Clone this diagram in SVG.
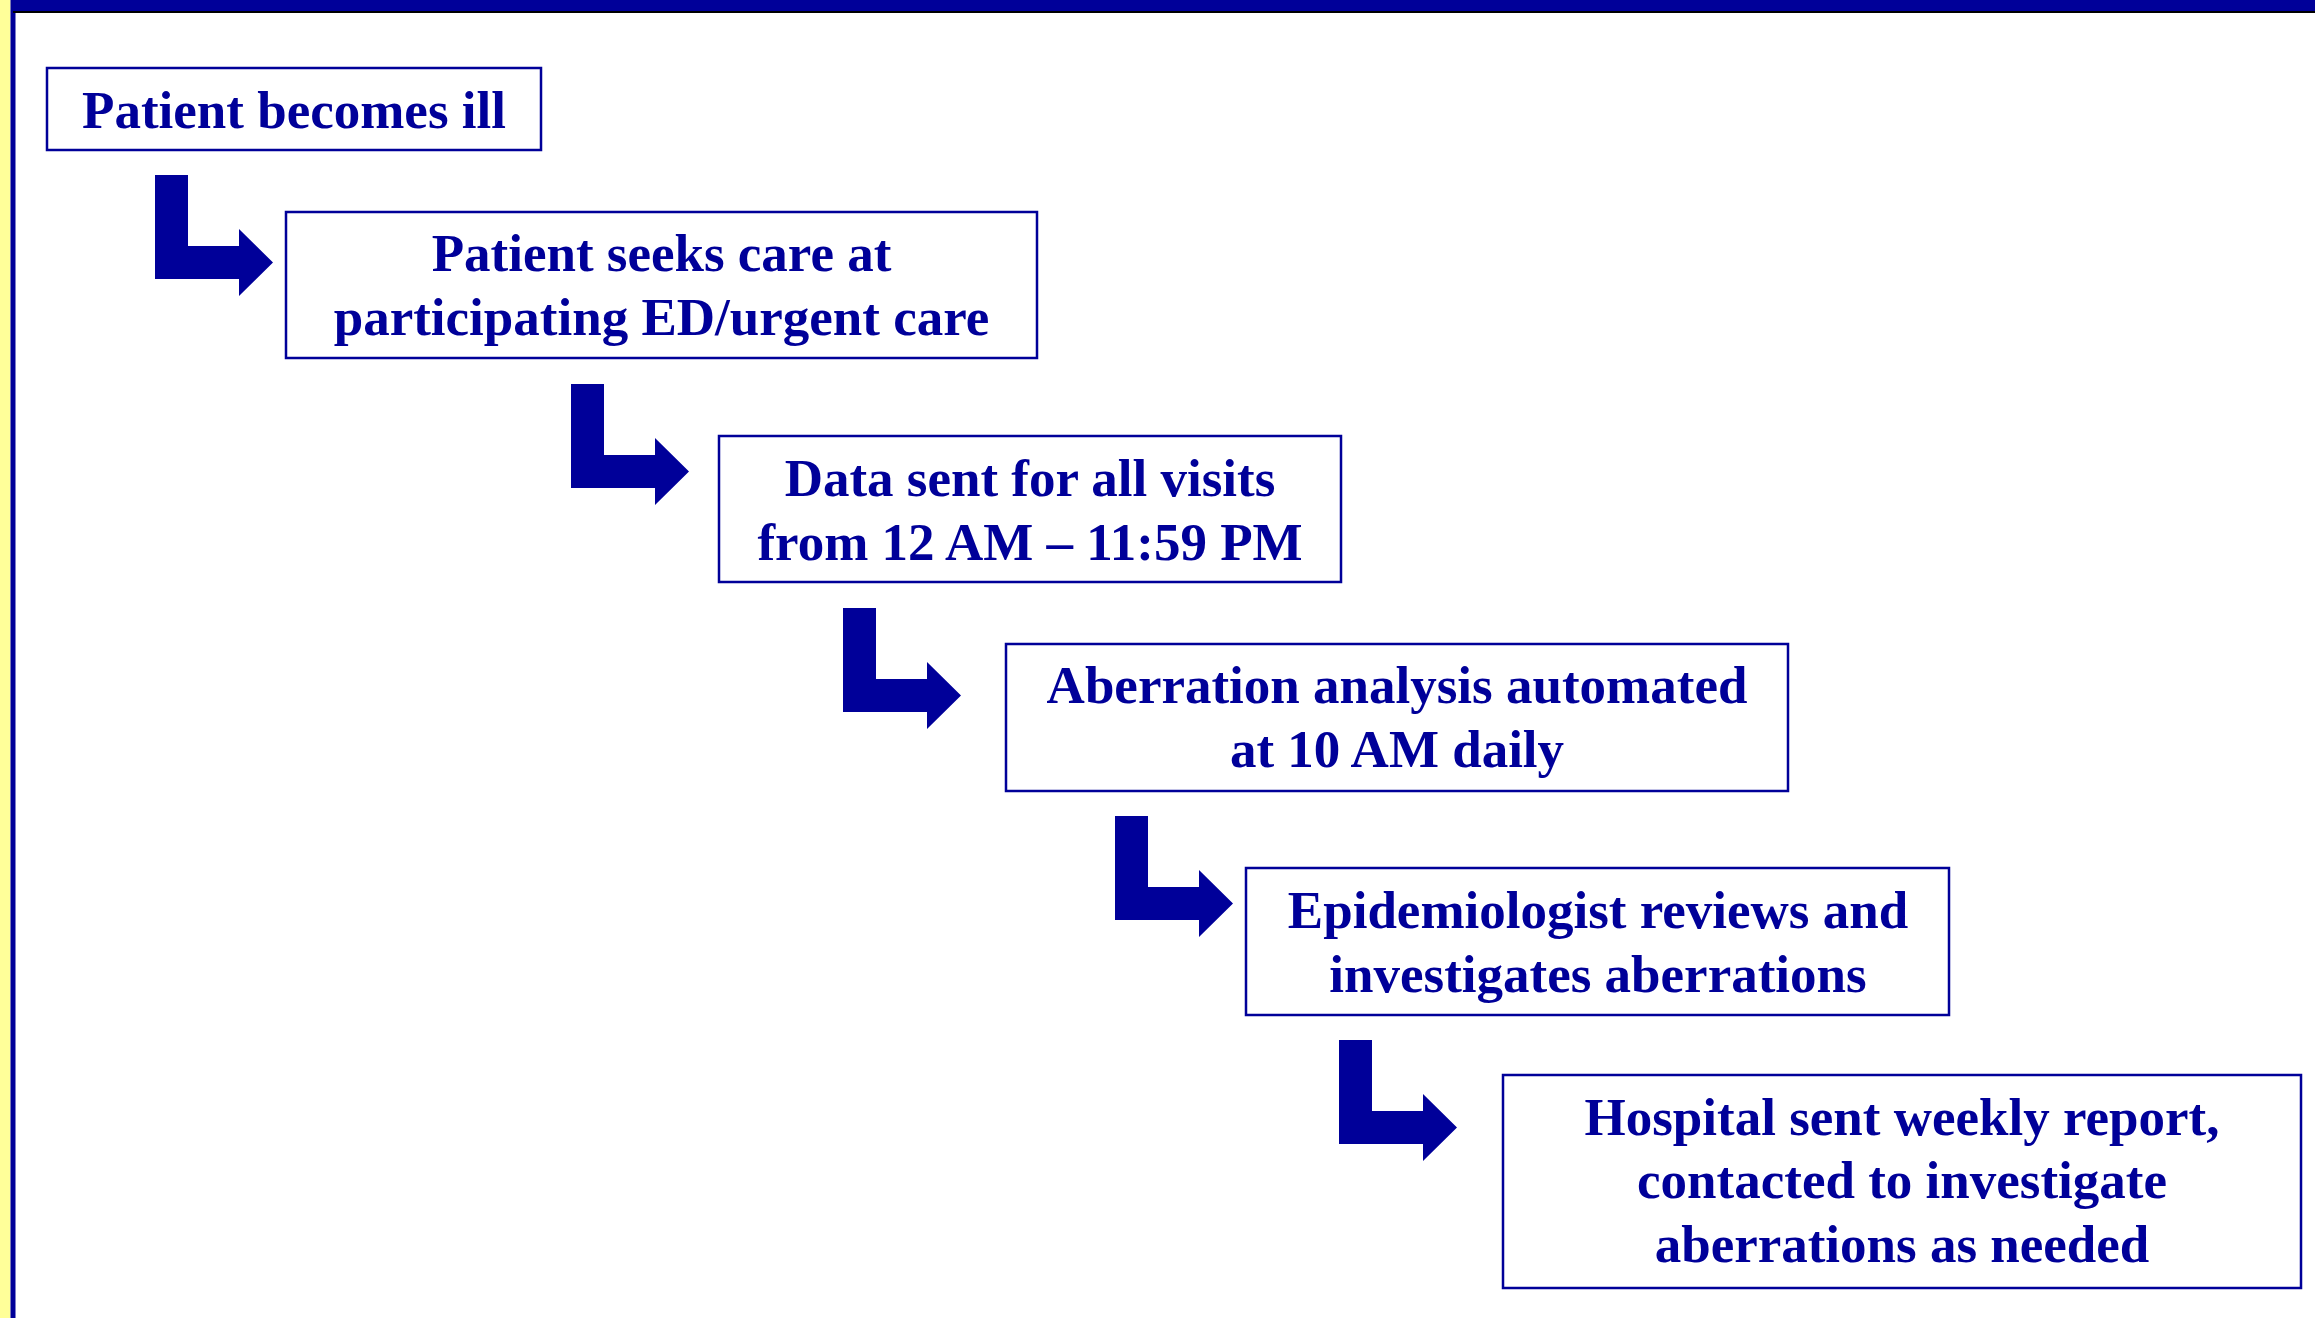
<svg xmlns="http://www.w3.org/2000/svg" xmlns:xlink="http://www.w3.org/1999/xlink" width="2315" height="1318" viewBox="0 0 2315 1318">
  <style>
    .box { fill: #ffffff; stroke: #000099; stroke-width: 2.5; }
    .lbl { font-family: "Liberation Serif", "Times New Roman", serif; font-weight: bold; font-size: 53px; fill: #000099; text-anchor: middle; }
    .bend { fill: #000099; }
  </style>
  <defs>
    <!-- bent arrow: down then right, origin at top-left of the stem -->
    <path id="bend" d="M0,0 H33 V71 H84 V54 L118,87.5 L84,121 V104 H0 Z"/>
  </defs>

  <!-- page frame -->
  <rect x="0" y="0" width="2315" height="1318" fill="#ffffff"/>
  <rect x="0" y="0" width="10.5" height="1318" fill="#ffff99"/>
  <rect x="10.5" y="0" width="5" height="1318" fill="#000099"/>
  <rect x="13" y="0" width="2302" height="11" fill="#000099"/>
  <rect x="13" y="11" width="2302" height="2" fill="#000000"/>

  <!-- connectors -->
  <g id="connectors" class="bend">
    <use xlink:href="#bend" x="155" y="175"/>
    <use xlink:href="#bend" x="571" y="384"/>
    <use xlink:href="#bend" x="843" y="608"/>
    <use xlink:href="#bend" x="1115" y="816"/>
    <use xlink:href="#bend" x="1339" y="1040"/>
  </g>

  <g id="step-ill">
    <rect class="box" x="47" y="68" width="494" height="82"/>
    <text class="lbl" x="294" y="128">Patient becomes ill</text>
  </g>

  <g id="step-seeks-care">
    <rect class="box" x="286" y="212" width="751" height="146"/>
    <text class="lbl" x="661.5" y="271">Patient seeks care at</text>
    <text class="lbl" x="661.5" y="335">participating ED/urgent care</text>
  </g>

  <g id="step-data-sent">
    <rect class="box" x="719" y="436" width="622" height="146"/>
    <text class="lbl" x="1030" y="496">Data sent for all visits</text>
    <text class="lbl" x="1030" y="560">from 12 AM – 11:59 PM</text>
  </g>

  <g id="step-analysis">
    <rect class="box" x="1006" y="644" width="782" height="147"/>
    <text class="lbl" x="1397" y="703">Aberration analysis automated</text>
    <text class="lbl" x="1397" y="767">at 10 AM daily</text>
  </g>

  <g id="step-review">
    <rect class="box" x="1246" y="868" width="703" height="147"/>
    <text class="lbl" x="1598" y="928">Epidemiologist reviews and</text>
    <text class="lbl" x="1598" y="992">investigates aberrations</text>
  </g>

  <g id="step-hospital">
    <rect class="box" x="1503" y="1075" width="798" height="213"/>
    <text class="lbl" x="1902" y="1135">Hospital sent weekly report,</text>
    <text class="lbl" x="1902" y="1198">contacted to investigate</text>
    <text class="lbl" x="1902" y="1262">aberrations as needed</text>
  </g>
</svg>
